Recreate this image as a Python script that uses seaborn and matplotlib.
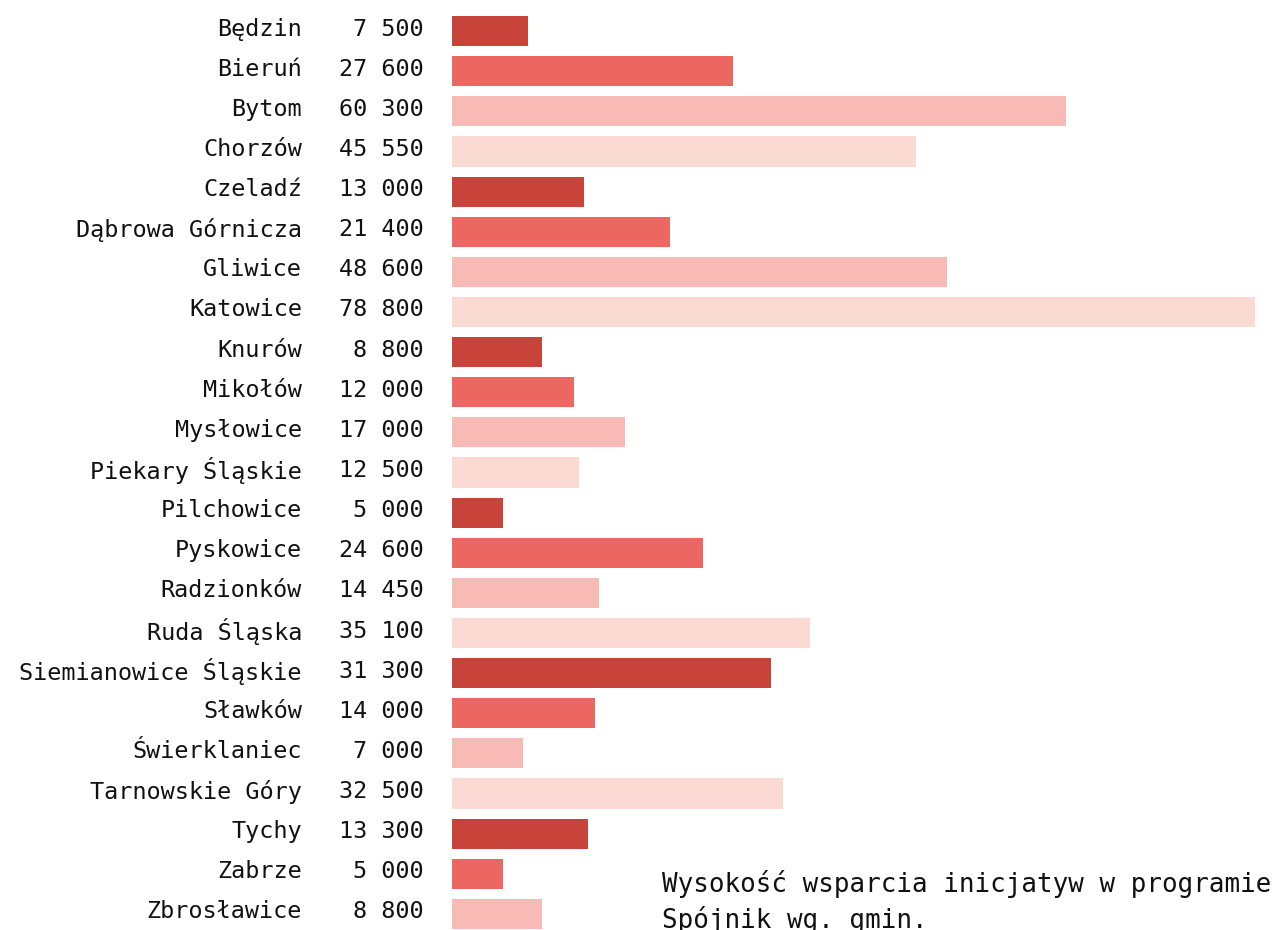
import matplotlib
matplotlib.use("Agg")
import matplotlib.pyplot as plt
import matplotlib.transforms as mtransforms
import seaborn as sns
import pandas as pd

names = ["Będzin", "Bieruń", "Bytom", "Chorzów", "Czeladź", "Dąbrowa Górnicza",
         "Gliwice", "Katowice", "Knurów", "Mikołów", "Mysłowice", "Piekary Śląskie",
         "Pilchowice", "Pyskowice", "Radzionków", "Ruda Śląska", "Siemianowice Śląskie",
         "Sławków", "Świerklaniec", "Tarnowskie Góry", "Tychy", "Zabrze", "Zbrosławice"]
values = [7500, 27600, 60300, 45550, 13000, 21400, 48600, 78800, 8800, 12000, 17000,
          12500, 5000, 24600, 14450, 35100, 31300, 14000, 7000, 32500, 13300, 5000, 8800]
palette_cycle = ["#c8443a", "#ec6762", "#f8bab5", "#fbdad4"]
caption = "Wysokość wsparcia inicjatyw w programie\nSpójnik wg. gmin."

df = pd.DataFrame({"name": names, "value": values})
colors = [palette_cycle[i % 4] for i in range(len(names))]

sns.set_theme(style="white")
plt.rcParams["font.family"] = ["DejaVu Sans Mono"]

W, H = 1272, 930
fig = plt.figure(figsize=(W / 100, H / 100), dpi=100)
left, right = 452 / W, 1255 / W
top_px, bot_px = 11, 934
ax = fig.add_axes([left, (H - bot_px) / H, right - left, (bot_px - top_px) / H])

sns.barplot(data=df, y="name", x="value", hue="name", palette=colors,
            legend=False, width=0.75, saturation=1, ax=ax, orient="h",
            linewidth=0, edgecolor="none")
ax.set_xlim(0, 78800)
ax.set_ylim(len(names) - 0.5, -0.5)
ax.axis("off")

trans = mtransforms.blended_transform_factory(ax.transAxes, ax.transData)
trans = trans + mtransforms.ScaledTranslation(0, 2 / 100, fig.dpi_scale_trans)
name_x = (302 - 452) / 803
val_x = (424 - 452) / 803
fs = 16.9
for i, (n, v) in enumerate(zip(names, values)):
    ax.text(name_x, i, n, transform=trans, ha="right", va="center",
            fontsize=fs, color="#111111")
    ax.text(val_x, i, f"{v:,}".replace(",", " "), transform=trans, ha="right",
            va="center", fontsize=fs, color="#111111")

fig.text(662 / W, 1 - 870 / H, caption, ha="left", va="top", fontsize=18.6,
         color="#111111", linespacing=1.35)

fig.savefig("out.png", dpi=100)
